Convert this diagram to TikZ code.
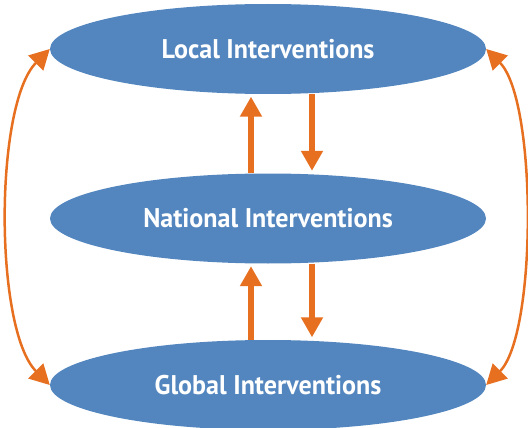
\documentclass[tikz,border=0pt]{standalone}
\usepackage{fontspec}
\setmainfont{PT Sans}
\newfontfamily\levelfont{PT Sans}[FakeStretch=0.965]
\usepackage{tikz}
\usetikzlibrary{arrows.meta}
\usetikzlibrary{shapes.geometric}
\definecolor{levelblue}{RGB}{83,134,190}
\definecolor{linkorange}{RGB}{231,111,32}

\begin{document}
\begin{tikzpicture}[x=1pt,y=1pt,
  level/.style={ellipse, fill=levelblue, minimum width=436pt, minimum height=90pt, inner sep=0pt,
    text=white, font=\levelfont\bfseries\fontsize{27}{30}\selectfont},
  levelarrow/.style={line width=5.5pt, linkorange, -{Triangle[width=21pt,length=20pt]}, shorten >=2.5pt},
  sidearrow/.style={line width=2.5pt, linkorange, {Triangle[width=21pt,length=20pt]}-{Triangle[width=21pt,length=20pt]}}]
\useasboundingbox (0,0) rectangle (528,-428);
\clip (0,0) rectangle (528,-428);
\node[level] (local) at (268,-49) {Local Interventions};
\node[level] (national) at (268,-218.5) {National Interventions};
\node[level] (global) at (268,-385) {Global Interventions};
\draw [levelarrow] ([xshift=-17pt]national.north) -- ([xshift=-17pt]local.south);
\draw [levelarrow] ([xshift=44pt]local.south) -- ([xshift=44pt]national.north);
\draw [levelarrow] ([xshift=-17pt]global.north) -- ([xshift=-17pt]national.south);
\draw [levelarrow] ([xshift=44pt]national.south) -- ([xshift=44pt]global.north);
\draw [sidearrow] (local.west) to[out=225, in=135, looseness=0.6] (global.west);
\draw [sidearrow] (local.east) to[out=-45, in=45, looseness=0.55] (global.east);
\end{tikzpicture}
\end{document}
